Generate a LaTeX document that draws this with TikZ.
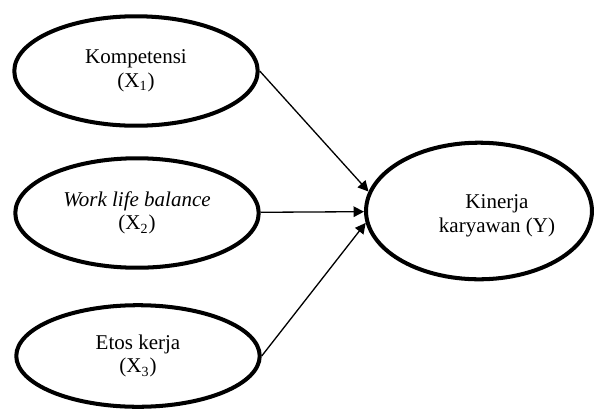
\documentclass[tikz,border=0pt]{standalone}
\usepackage{fontspec}
\setmainfont{Liberation Serif}
\usetikzlibrary{shapes.geometric,arrows.meta}

\begin{document}
\begin{tikzpicture}[x=0.571pt, y=-0.571pt,
    every node/.style={font=\fontsize{12}{13.5}\selectfont, align=center},
    oval/.style={ellipse, draw, line width=2.3pt, inner sep=0pt},
    varleft/.style={oval, minimum width=139pt, minimum height=62.5pt},
    arr/.style={-{Triangle[length=6pt,width=6pt]}, line width=0.75pt}]

    \useasboundingbox (0,0) rectangle (595,409);

    % Ellipses
    \node[varleft] (komp) at (136,71) {Kompetensi\\(X\textsubscript{1})};
    \node[varleft] (wlb) at (137,213) {\textit{Work life balance}\\(X\textsubscript{2})};
    \node[varleft, minimum height=58pt] (etos) at (138,356) {Etos kerja\\(X\textsubscript{3})};
    \node[oval, minimum width=129pt, minimum height=78pt] (kin) at (479,211) {};

    % Nodes (Texts)
    \node (kintxt) at (497,216) {Kinerja\\karyawan (Y)};

    % Arrows
    \draw[arr] (komp.east) -- (kin.170);
    \draw[arr] (wlb) -- (kin);
    \draw[arr] (etos.east) -- (kin.186);

\end{tikzpicture}
\end{document}
